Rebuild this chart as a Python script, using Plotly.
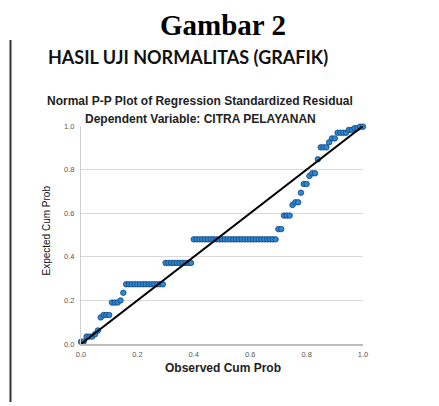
import plotly.graph_objects as go

# Observed cumulative probability (x) and expected cumulative probability (y)
observed_cum_prob = [
    0.00, 0.01, 0.02, 0.03, 0.04, 0.05, 0.06, 0.07, 0.08, 0.09,
    0.10, 0.11, 0.12, 0.13, 0.14, 0.15, 0.16, 0.17, 0.18, 0.19,
    0.20, 0.21, 0.22, 0.23, 0.24, 0.25, 0.26, 0.27, 0.28, 0.29,
    0.30, 0.31, 0.32, 0.33, 0.34, 0.35, 0.36, 0.37, 0.38, 0.39,
    0.40, 0.41, 0.42, 0.43, 0.44, 0.45, 0.46, 0.47, 0.48, 0.49,
    0.50, 0.51, 0.52, 0.53, 0.54, 0.55, 0.56, 0.57, 0.58, 0.59,
    0.60, 0.61, 0.62, 0.63, 0.64, 0.65, 0.66, 0.67, 0.68, 0.69,
    0.70, 0.71, 0.72, 0.73, 0.74, 0.75, 0.76, 0.77, 0.78, 0.79,
    0.80, 0.81, 0.82, 0.83, 0.84, 0.85, 0.86, 0.87, 0.88, 0.89,
    0.90, 0.91, 0.92, 0.93, 0.94, 0.95, 0.96, 0.97, 0.98, 0.99,
    1.00,
]
expected_cum_prob = [
    0.010, 0.012, 0.034, 0.034, 0.034, 0.045, 0.062, 0.122, 0.133, 0.133,
    0.133, 0.190, 0.190, 0.190, 0.200, 0.235, 0.274, 0.274, 0.274, 0.274,
    0.274, 0.274, 0.274, 0.274, 0.274, 0.274, 0.274, 0.274, 0.274, 0.274,
    0.372, 0.372, 0.372, 0.372, 0.372, 0.372, 0.372, 0.372, 0.372, 0.372,
    0.480, 0.480, 0.480, 0.480, 0.480, 0.480, 0.480, 0.480, 0.480, 0.480,
    0.480, 0.480, 0.480, 0.480, 0.480, 0.480, 0.480, 0.480, 0.480, 0.480,
    0.480, 0.480, 0.480, 0.480, 0.480, 0.480, 0.480, 0.480, 0.480, 0.480,
    0.527, 0.527, 0.589, 0.589, 0.589, 0.638, 0.650, 0.650, 0.694, 0.734,
    0.734, 0.771, 0.783, 0.783, 0.847, 0.902, 0.902, 0.902, 0.925, 0.943,
    0.943, 0.969, 0.969, 0.969, 0.969, 0.982, 0.982, 0.990, 0.990, 0.997,
    0.997,
]
reference_line = [0.0, 1.0]
tick_values = [0.0, 0.2, 0.4, 0.6, 0.8, 1.0]
tick_labels = ["0.0", "0.2", "0.4", "0.6", "0.8", "1.0"]

fig = go.Figure()
fig.add_trace(go.Scatter(
    x=observed_cum_prob, y=expected_cum_prob, mode="markers",
    marker=dict(size=5.5, color="#278ad6", line=dict(color="#1b3f73", width=0.8)),
    cliponaxis=False, showlegend=False,
))
fig.add_trace(go.Scatter(
    x=reference_line, y=reference_line, mode="lines",
    line=dict(color="black", width=2), cliponaxis=False, showlegend=False,
))

axis_font = dict(family="Liberation Sans, Arial", size=7.5, color="#555555")
fig.update_xaxes(range=[0, 1], tickvals=tick_values, ticktext=tick_labels,
                 showgrid=False, zeroline=False, showline=True,
                 linecolor="#bdbdbd", linewidth=1.5, tickfont=axis_font,
                 ticks="", ticklabelstandoff=2)
fig.update_yaxes(range=[0, 1], tickvals=tick_values, ticktext=tick_labels,
                 showgrid=True, gridcolor="#d9d9d9", gridwidth=1,
                 zeroline=False, showline=True, linecolor="#d0d0d0",
                 linewidth=1, tickfont=axis_font, ticks="", ticklabelstandoff=4)

bold_sans = "Liberation Sans, Arial"
fig.update_layout(
    width=439, height=406,
    margin=dict(l=81, r=76, t=126, b=62),
    paper_bgcolor="white", plot_bgcolor="white",
    annotations=[
        dict(text="<b>Gambar 2</b>", x=0.5035, y=1.462, xref="paper", yref="paper",
             xanchor="center", yanchor="middle", showarrow=False,
             font=dict(family="Liberation Serif, Times New Roman", size=29, color="black")),
        dict(text="<b>HASIL UJI NORMALITAS (GRAFIK)</b>", x=-0.123, y=1.318,
             xref="paper", yref="paper", xanchor="left", yanchor="middle",
             showarrow=False,
             font=dict(family="Lato, Open Sans", size=18, color="#111111")),
        dict(text="<b>Normal P-P Plot of Regression Standardized Residual</b>",
             x=0.422, y=1.116, xref="paper", yref="paper", xanchor="center",
             yanchor="middle", showarrow=False,
             font=dict(family=bold_sans, size=12, color="#222222")),
        dict(text="<b>Dependent Variable: CITRA PELAYANAN</b>",
             x=0.422, y=1.033, xref="paper", yref="paper", xanchor="center",
             yanchor="middle", showarrow=False,
             font=dict(family=bold_sans, size=12, color="#222222")),
        dict(text="<b>Observed Cum Prob</b>", x=0.502, y=-0.11, xref="paper",
             yref="paper", xanchor="center", yanchor="middle", showarrow=False,
             font=dict(family=bold_sans, size=12, color="#222222")),
        dict(text="Expected Cum Prob", x=-0.121, y=0.52, xref="paper",
             yref="paper", xanchor="center", yanchor="middle", showarrow=False,
             textangle=-90,
             font=dict(family="Liberation Sans Narrow, Liberation Sans, Arial", size=10, color="#111111")),
    ],
    shapes=[
        dict(type="line", xref="paper", yref="paper", x0=-0.25, x1=-0.25,
             y0=1.394, y1=-0.266, line=dict(color="#333333", width=2)),
    ],
)

fig.write_html("out.html", config={"displayModeBar": False},
               post_script="document.body.style.margin='0px';")
